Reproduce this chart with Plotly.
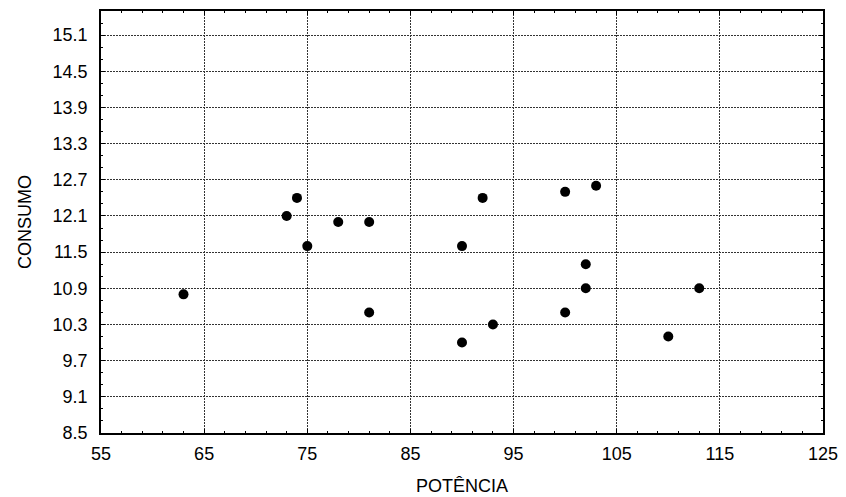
import plotly.graph_objects as go

potencia = [63, 73, 74, 75, 78, 81, 81, 90, 92, 90, 93, 100, 103, 102, 102, 100, 110, 113]
consumo = [10.8, 12.1, 12.4, 11.6, 12.0, 12.0, 10.5, 11.6, 12.4, 10.0, 10.3, 12.5, 12.6, 11.3, 10.9, 10.5, 10.1, 10.9]

x_title = "POTÊNCIA"
y_title = "CONSUMO"

fig = go.Figure()
fig.add_trace(go.Scatter(
    x=potencia, y=consumo, mode="markers",
    marker=dict(color="black", size=10),
    showlegend=False,
))

font = dict(family="Liberation Sans, Arial, sans-serif", size=18, color="black")

fig.update_layout(
    width=838, height=489,
    margin=dict(l=93, r=23, t=1, b=64),
    plot_bgcolor="white", paper_bgcolor="white",
    font=font,
    xaxis=dict(
        range=[55, 125], tick0=55, dtick=10,
        showline=True, linecolor="black", linewidth=1.5, mirror="allticks",
        ticks="inside", ticklen=4, tickcolor="black",
        showgrid=True, gridcolor="#333333", griddash="2px,1px", gridwidth=1,
        zeroline=False,
        minor=dict(dtick=2, tick0=55, ticks="inside", ticklen=2, tickcolor="black", showgrid=False),
        title=dict(text=x_title, standoff=16, font=dict(size=18)),
        tickfont=dict(size=18),
        ticklabelstandoff=4,
    ),
    yaxis=dict(
        range=[8.5, 15.5], tick0=8.5, dtick=0.6, tickformat=".1f",
        showline=True, linecolor="black", linewidth=1.5, mirror="allticks",
        ticks="inside", ticklen=4, tickcolor="black",
        showgrid=True, gridcolor="#333333", griddash="2px,1px", gridwidth=1,
        zeroline=False,
        minor=dict(dtick=0.2, tick0=8.5, ticks="inside", ticklen=2, tickcolor="black", showgrid=False),
        title=dict(text=y_title, standoff=16, font=dict(size=18)),
        tickfont=dict(size=18),
        ticklabelstandoff=8,
    ),
)

fig.write_html("out.html")
